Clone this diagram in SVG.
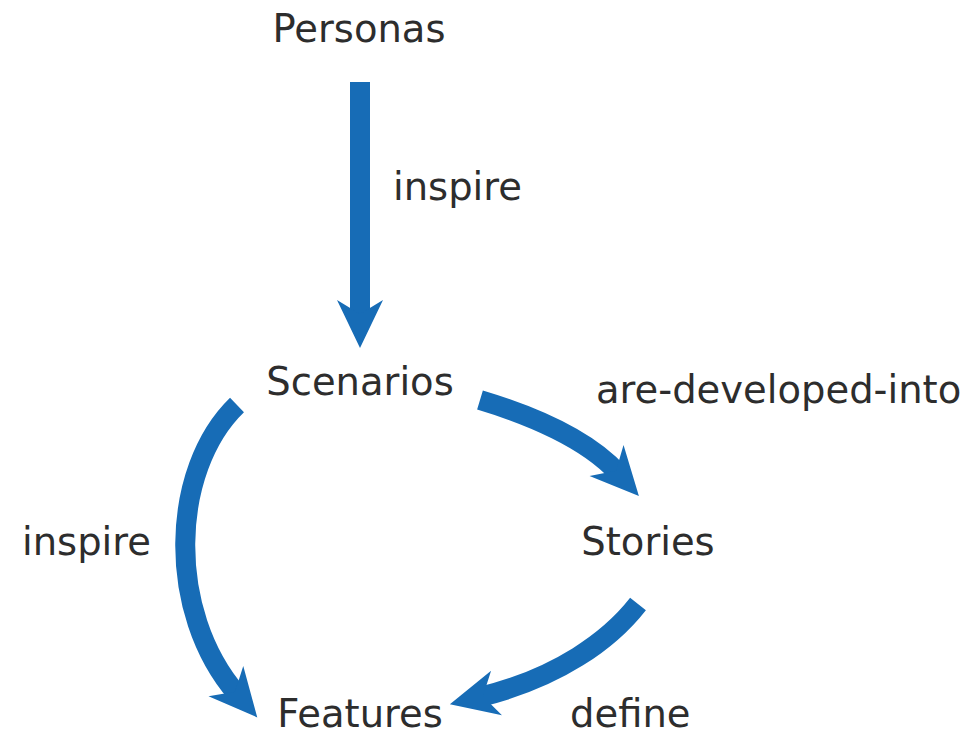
<svg xmlns="http://www.w3.org/2000/svg" width="977" height="737" viewBox="0 0 977 737">
<style>
text{font-family:"DejaVu Sans","Verdana",sans-serif;font-size:38.5px;fill:#2d2d2d}
.c{text-anchor:middle}
.e{fill:none;stroke:#176cb6;stroke-width:20;stroke-linecap:butt}
</style>
<defs>
<marker id="ah" markerUnits="userSpaceOnUse" markerWidth="60" markerHeight="60" refX="17" refY="0" viewBox="-2 -30 60 60" orient="auto" overflow="visible">
<path d="M0,-23 L48,0 L0,23 L14,0 Z" fill="#176cb6"/>
</marker>
</defs>
<rect width="977" height="737" fill="#fff"/>
<g id="connectors">
<path class="e" d="M360,82 L360,317" marker-end="url(#ah)"/>
<path class="e" d="M480,400 C530,415 587,439 618,473" marker-end="url(#ah)"/>
<path class="e" d="M237,405 C170,470 166,612 237,694" marker-end="url(#ah)"/>
<path class="e" d="M638,604 C610,640 558,678 480,697" marker-end="url(#ah)"/>
</g>
<g id="labels">
<text x="393" y="200">inspire</text>
<text x="596" y="403">are-developed-into</text>
<text x="22" y="555">inspire</text>
<text x="570" y="727">define</text>
</g>
<g id="personas"><text class="c" x="359" y="42">Personas</text></g>
<g id="scenarios"><text class="c" x="360" y="395">Scenarios</text></g>
<g id="stories"><text class="c" x="648" y="555">Stories</text></g>
<g id="features"><text class="c" x="360" y="727">Features</text></g>
</svg>
